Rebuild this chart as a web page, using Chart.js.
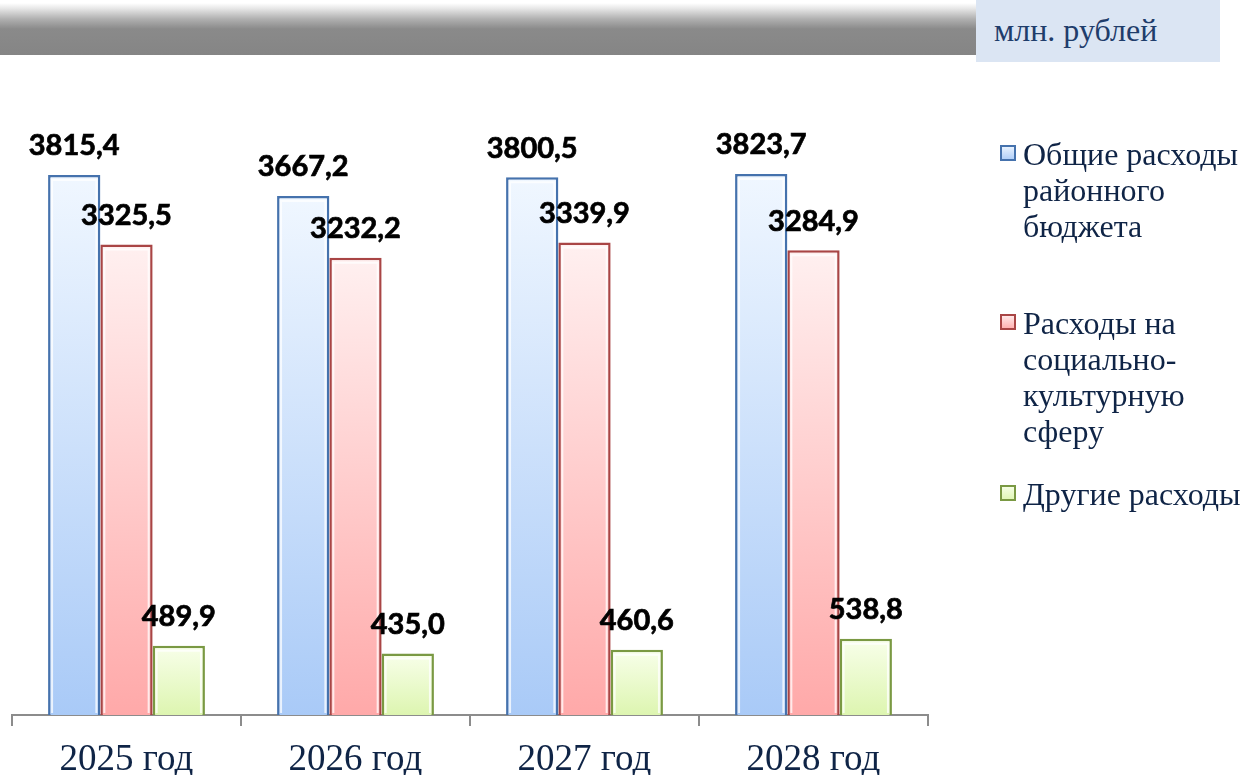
<!DOCTYPE html>
<html lang="ru">
<head>
<meta charset="utf-8">
<script src="https://cdn.jsdelivr.net/npm/chart.js@4.4.0/dist/chart.umd.min.js"></script>
<style>
  html,body{margin:0;padding:0;background:#fff;width:1245px;height:775px;overflow:hidden;}
  #band{position:absolute;left:0;top:3px;width:976px;height:52px;
    background:linear-gradient(to bottom,#ffffff 0px,#e4e4e4 6px,#b0b0b0 16px,#8a8a8a 26px,#858585 100%);}
  #unit{position:absolute;left:976px;top:0;width:244px;height:62px;background:#dbe5f3;
    font-family:"Liberation Serif","Times New Roman",serif;font-size:32px;color:#1f3d6b;
    line-height:60px;padding-left:18px;box-sizing:border-box;}
  #wrap{position:absolute;left:0;top:0;width:1245px;height:775px;}
</style>
</head>
<body>
<div id="band"></div>
<div id="unit">млн. рублей</div>
<div id="wrap"><canvas id="c" width="1245" height="775"></canvas></div>
<script>
// ---- data ----
const categories = ["2025 год", "2026 год", "2027 год", "2028 год"];
const totalSpending = [3815.4, 3667.2, 3800.5, 3823.7];
const socialSpending = [3325.5, 3232.2, 3339.9, 3284.9];
const otherSpending = [489.9, 435.0, 460.6, 538.8];
const seriesNames = [
  ["Общие расходы", "районного", "бюджета"],
  ["Расходы на", "социально-", "культурную", "сферу"],
  ["Другие расходы"]
];

// ---- styling ----
const fills = [
  {top:'#f0f7ff', bottom:'#a9caf7', border:'#4572ad'},
  {top:'#fff0f0', bottom:'#ffa9a9', border:'#a94545'},
  {top:'#f8ffea', bottom:'#ddf5b0', border:'#7a9943'}
];
const textNavy = '#0f2446';

function barFill(i){
  return (ctx) => {
    const chart = ctx.chart;
    if (!chart.chartArea || ctx.type !== 'data' || !chart.scales.y) return fills[i].bottom;
    const y = chart.scales.y;
    const top = y.getPixelForValue(ctx.parsed.y);
    const base = y.getPixelForValue(0);
    const g = chart.ctx.createLinearGradient(0, top, 0, base);
    g.addColorStop(0, fills[i].top);
    g.addColorStop(1, fills[i].bottom);
    return g;
  };
}

const fmt = v => v.toFixed(1).replace('.', ',');

const bevel = {
  id: 'bevel',
  afterDatasetsDraw(chart){
    const c = chart.ctx;
    c.save();
    chart.data.datasets.forEach((ds, di) => {
      chart.getDatasetMeta(di).data.forEach(bar => {
        const l = bar.x - bar.width/2, r = bar.x + bar.width/2;
        const t = bar.y, b = bar.base;
        c.strokeStyle = 'rgba(255,255,255,0.75)';
        c.lineWidth = 2;
        c.beginPath();
        c.moveTo(l + 4, b - 2);
        c.lineTo(l + 4, t + 5);
        c.lineTo(r - 4, t + 5);
        c.lineTo(r - 4, b - 2);
        c.stroke();
      });
    });
    c.restore();
  }
};

const valueLabels = {
  id: 'valueLabels',
  afterDatasetsDraw(chart){
    const c = chart.ctx;
    c.save();
    c.font = 'bold 29px Lato, "Open Sans", sans-serif';
    c.fillStyle = '#000';
    c.strokeStyle = '#000';
    c.lineWidth = 0.7;
    c.textAlign = 'center';
    c.textBaseline = 'middle';
    chart.data.datasets.forEach((ds, di) => {
      const meta = chart.getDatasetMeta(di);
      meta.data.forEach((bar, i) => {
        c.fillText(fmt(ds.data[i]), bar.x, bar.y - 29);
        c.strokeText(fmt(ds.data[i]), bar.x, bar.y - 29);
      });
    });
    c.restore();
  }
};

const sideLegend = {
  id: 'sideLegend',
  afterDraw(chart){
    const c = chart.ctx;
    const x0 = 1000, box = 16, textX = 1023, lineH = 36;
    const starts = [157, 326, 497];
    c.save();
    c.font = '32px "Liberation Serif", "Times New Roman", serif';
    c.textBaseline = 'middle';
    c.textAlign = 'left';
    seriesNames.forEach((lines, i) => {
      const y0 = starts[i];
      const by = y0 - 4 - box/2;
      const g = c.createLinearGradient(0, by, 0, by + box);
      g.addColorStop(0, fills[i].top);
      g.addColorStop(1, fills[i].bottom);
      c.fillStyle = g;
      c.fillRect(x0, by, box, box);
      c.strokeStyle = fills[i].border;
      c.lineWidth = 2;
      c.strokeRect(x0 + 1, by + 1, box - 2, box - 2);
      c.fillStyle = textNavy;
      lines.forEach((t, k) => c.fillText(t, textX, y0 + k * lineH));
    });
    c.restore();
  }
};

const mk = (data, i) => ({
  label: seriesNames[i].join(' '),
  data,
  backgroundColor: barFill(i),
  borderColor: fills[i].border,
  borderWidth: 2.5,
  borderSkipped: 'bottom'
});

new Chart(document.getElementById('c'), {
  type: 'bar',
  data: {
    labels: categories,
    datasets: [
      mk(totalSpending, 0),
      mk(socialSpending, 1),
      mk(otherSpending, 2)
    ]
  },
  options: {
    responsive: false,
    animation: false,
    events: [],
    layout: { padding: { left: 12, right: 317, top: 149, bottom: 0 } },
    datasets: { bar: { categoryPercentage: 0.685, barPercentage: 1.0 } },
    plugins: { legend: { display: false }, tooltip: { enabled: false } },
    scales: {
      y: { display: false, min: 0, max: 4000 },
      x: {
        grid: { offset: true, drawOnChartArea: false, drawTicks: true, tickLength: 11, color: '#8c8c8c', lineWidth: 2 },
        border: { display: true, color: '#8c8c8c', width: 2 },
        ticks: { font: { family: '"Liberation Serif", "Times New Roman", serif', size: 37 }, color: textNavy, padding: 12 },
        afterFit(s){ s.height = 60; }
      }
    }
  },
  plugins: [bevel, valueLabels, sideLegend]
});
</script>
</body>
</html>
